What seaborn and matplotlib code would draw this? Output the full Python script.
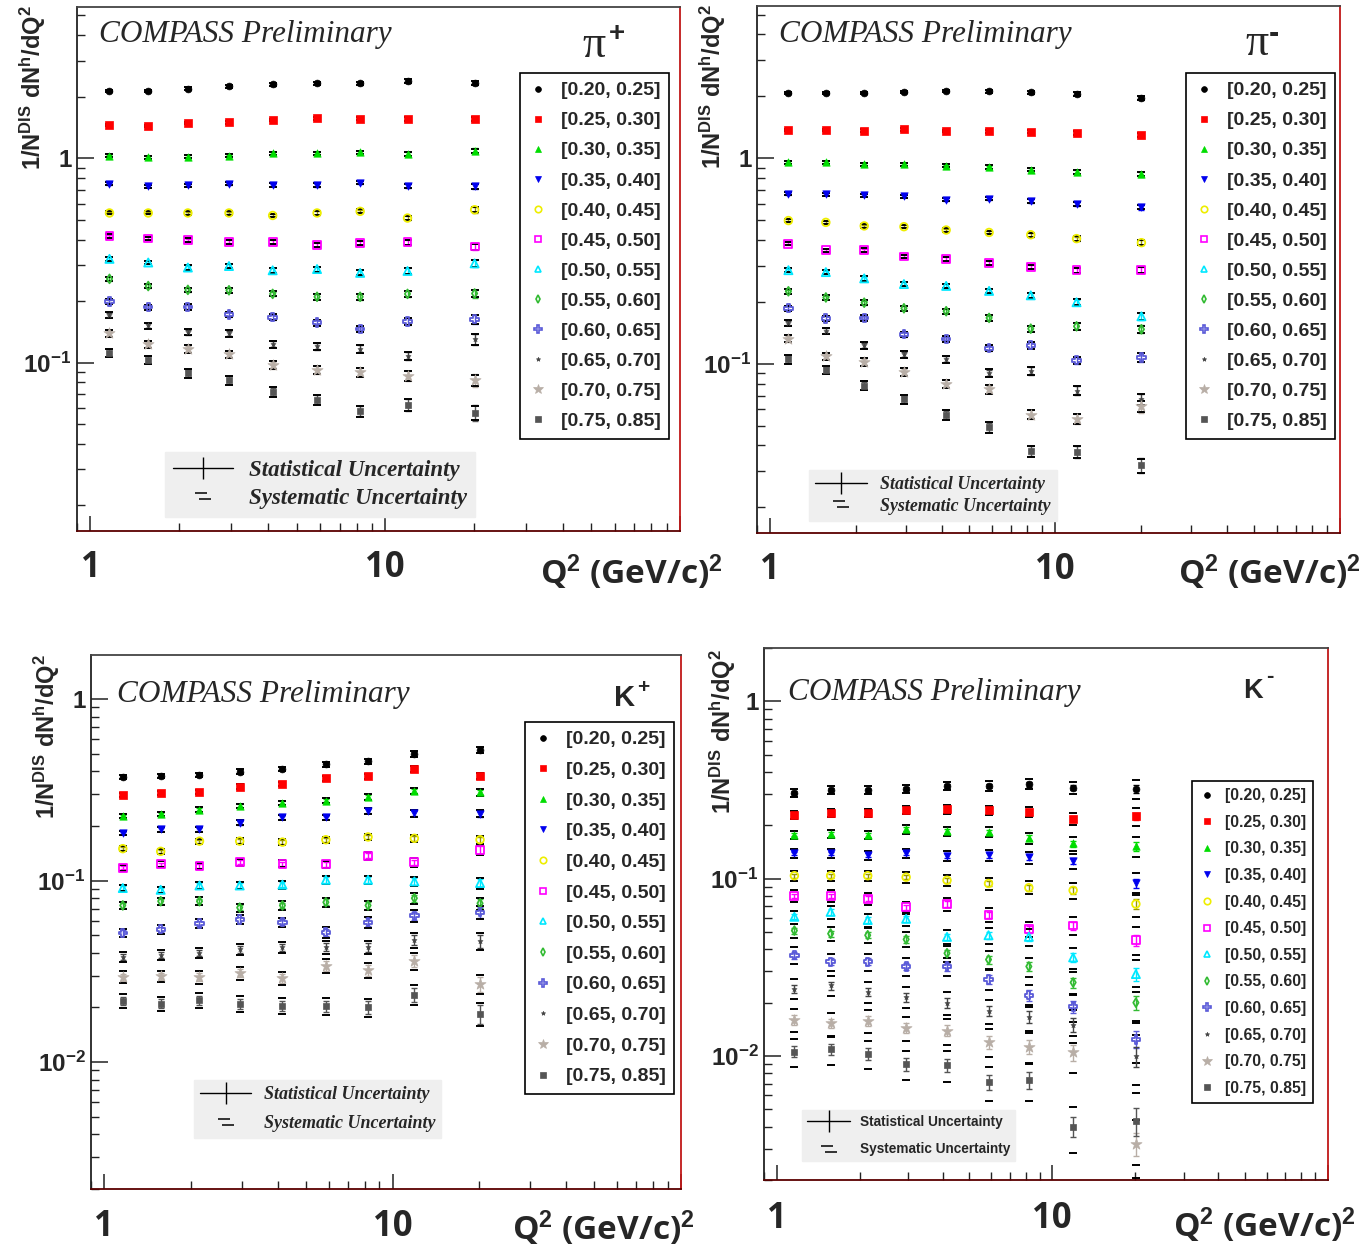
import numpy as np
import matplotlib
matplotlib.use('Agg')
import matplotlib.pyplot as plt
from matplotlib.lines import Line2D
from matplotlib.path import Path
from matplotlib.ticker import LogLocator, NullFormatter
import seaborn as sns

W, H = 1367, 1247

# ---------------- data ----------------
q2 = [1.16, 1.57, 2.14, 2.95, 4.15, 5.87, 8.22, 11.9, 20.1]

z_bins = ['[0.20, 0.25]', '[0.25, 0.30]', '[0.30, 0.35]', '[0.35, 0.40]',
          '[0.40, 0.45]', '[0.45, 0.50]', '[0.50, 0.55]', '[0.55, 0.60]',
          '[0.60, 0.65]', '[0.65, 0.70]', '[0.70, 0.75]', '[0.75, 0.85]']

pip_vals = [
    [2.13, 2.13, 2.19, 2.25, 2.30, 2.33, 2.33, 2.39, 2.34],
    [1.45, 1.44, 1.49, 1.50, 1.54, 1.57, 1.56, 1.56, 1.56],
    [1.03, 1.01, 1.02, 1.03, 1.06, 1.06, 1.07, 1.05, 1.09],
    [0.75, 0.73, 0.74, 0.75, 0.74, 0.74, 0.76, 0.73, 0.73],
    [0.54, 0.54, 0.54, 0.54, 0.525, 0.54, 0.55, 0.51, 0.56],
    [0.416, 0.405, 0.398, 0.390, 0.390, 0.376, 0.386, 0.388, 0.370],
    [0.322, 0.309, 0.292, 0.297, 0.283, 0.287, 0.275, 0.281, 0.306],
    [0.257, 0.237, 0.227, 0.226, 0.217, 0.210, 0.210, 0.217, 0.218],
    [0.199, 0.187, 0.187, 0.172, 0.167, 0.157, 0.146, 0.159, 0.163],
    [0.171, 0.152, 0.141, 0.139, 0.123, 0.120, 0.117, 0.108, 0.130],
    [0.139, 0.123, 0.117, 0.110, 0.097, 0.092, 0.090, 0.086, 0.082],
    [0.112, 0.1035, 0.089, 0.082, 0.072, 0.066, 0.058, 0.062, 0.057],
]

pim_vals = [
    [2.07, 2.07, 2.08, 2.10, 2.12, 2.12, 2.09, 2.055, 1.97],
    [1.37, 1.37, 1.36, 1.38, 1.356, 1.35, 1.345, 1.327, 1.29],
    [0.954, 0.954, 0.934, 0.934, 0.918, 0.906, 0.879, 0.857, 0.835],
    [0.671, 0.668, 0.660, 0.654, 0.629, 0.635, 0.618, 0.598, 0.578],
    [0.497, 0.487, 0.468, 0.464, 0.447, 0.435, 0.424, 0.406, 0.388],
    [0.384, 0.356, 0.356, 0.332, 0.324, 0.310, 0.296, 0.285, 0.285],
    [0.285, 0.279, 0.260, 0.244, 0.239, 0.226, 0.215, 0.199, 0.170],
    [0.225, 0.210, 0.198, 0.186, 0.180, 0.167, 0.148, 0.152, 0.147],
    [0.186, 0.166, 0.167, 0.139, 0.132, 0.119, 0.123, 0.104, 0.107],
    [0.158, 0.145, 0.123, 0.111, 0.105, 0.090, 0.092, 0.074, 0.067],
    [0.132, 0.1085, 0.102, 0.091, 0.080, 0.075, 0.0565, 0.054, 0.062],
    [0.105, 0.093, 0.078, 0.067, 0.0565, 0.049, 0.0376, 0.0373, 0.032],
]

kp_vals = [
    [0.371, 0.378, 0.382, 0.399, 0.413, 0.438, 0.456, 0.50, 0.526],
    [0.296, 0.305, 0.309, 0.330, 0.340, 0.367, 0.375, 0.413, 0.378],
    [0.227, 0.232, 0.246, 0.258, 0.268, 0.276, 0.289, 0.311, 0.306],
    [0.183, 0.192, 0.192, 0.208, 0.223, 0.223, 0.243, 0.235, 0.234],
    [0.150, 0.145, 0.165, 0.165, 0.163, 0.168, 0.174, 0.171, 0.168],
    [0.118, 0.123, 0.121, 0.126, 0.124, 0.123, 0.137, 0.126, 0.148],
    [0.091, 0.089, 0.094, 0.094, 0.095, 0.101, 0.101, 0.099, 0.097],
    [0.073, 0.077, 0.077, 0.071, 0.073, 0.076, 0.073, 0.080, 0.075],
    [0.0515, 0.054, 0.058, 0.061, 0.059, 0.052, 0.059, 0.064, 0.067],
    [0.038, 0.039, 0.040, 0.042, 0.043, 0.043, 0.043, 0.047, 0.0465],
    [0.0294, 0.0297, 0.0294, 0.031, 0.029, 0.034, 0.032, 0.036, 0.027],
    [0.0217, 0.021, 0.022, 0.021, 0.0205, 0.0203, 0.020, 0.0235, 0.0184],
]

km_vals = [
    [0.305, 0.318, 0.316, 0.322, 0.334, 0.334, 0.341, 0.326, 0.321],
    [0.229, 0.235, 0.234, 0.244, 0.246, 0.243, 0.237, 0.218, 0.225],
    [0.177, 0.179, 0.177, 0.190, 0.185, 0.183, 0.170, 0.158, 0.152],
    [0.139, 0.139, 0.136, 0.139, 0.135, 0.136, 0.132, 0.126, 0.094],
    [0.104, 0.104, 0.104, 0.102, 0.098, 0.094, 0.089, 0.086, 0.072],
    [0.080, 0.080, 0.077, 0.069, 0.072, 0.0625, 0.052, 0.0545, 0.045],
    [0.061, 0.065, 0.0585, 0.0594, 0.047, 0.048, 0.047, 0.036, 0.029],
    [0.051, 0.049, 0.048, 0.0455, 0.038, 0.035, 0.032, 0.026, 0.020],
    [0.037, 0.034, 0.034, 0.032, 0.032, 0.027, 0.022, 0.019, 0.0124],
    [0.024, 0.025, 0.023, 0.0215, 0.020, 0.018, 0.0167, 0.015, 0.010],
    [0.0160, 0.0153, 0.0158, 0.0144, 0.0139, 0.0120, 0.0113, 0.0105, 0.0032],
    [0.0106, 0.0109, 0.0103, 0.0090, 0.0089, 0.0071, 0.0073, 0.0040, 0.0043],
]

# relative uncertainties: per Q2 bin, scaled per z bin
z_err_scale = [1.0, 1.0, 1.1, 1.2, 1.3, 1.5, 1.7, 1.9, 2.2, 2.6, 3.0, 3.6]
pip_stat = [0.010, 0.010, 0.011, 0.012, 0.013, 0.014, 0.016, 0.018, 0.024]
pip_sys = [0.013, 0.013, 0.014, 0.014, 0.015, 0.016, 0.017, 0.019, 0.022]
pim_stat = [0.010, 0.010, 0.011, 0.012, 0.013, 0.014, 0.016, 0.018, 0.024]
pim_sys = [0.013, 0.013, 0.014, 0.014, 0.015, 0.016, 0.017, 0.019, 0.022]
kp_stat = [0.015, 0.015, 0.016, 0.017, 0.018, 0.020, 0.022, 0.025, 0.032]
kp_sys = [0.025, 0.025, 0.026, 0.027, 0.028, 0.030, 0.032, 0.035, 0.040]
km_stat = [0.020, 0.020, 0.021, 0.022, 0.024, 0.027, 0.030, 0.035, 0.050]
km_sys = [0.050, 0.050, 0.050, 0.052, 0.055, 0.060, 0.065, 0.080, 0.120]

# ---------------- style ----------------
sns.set_theme(style='ticks')
plt.rcParams.update({
    'font.family': ['Liberation Sans', 'DejaVu Sans'],
    'mathtext.fontset': 'custom',
    'mathtext.rm': 'Liberation Sans:bold',
    'mathtext.bf': 'Liberation Sans:bold',
    'mathtext.it': 'Liberation Sans:bold:italic',
    'axes.facecolor': 'white',
    'figure.facecolor': 'white',
})

# marker, colour, size, open?
markers = [
    ('o', '#000000', 24, False),
    ('s', '#ff0000', 28, False),
    ('^', '#00dd00', 28, False),
    ('v', '#0000ee', 28, False),
    ('o', '#eeee00', 30, True),
    ('s', '#ff00ff', 32, True),
    ('^', '#00e8ff', 34, True),
    ('d', '#33bb33', 20, True),
    ('P', '#5a5ad8', 36, True),
    ('*', '#444444', 14, False),
    ('*', '#b8aea6', 70, False),
    ('s', '#555555', 20, False),
]

# two offset dashes, the systematic-uncertainty symbol of the key
sys_symbol = Path([(-1.0, 0.45), (0.5, 0.45), (-0.5, -0.45), (1.0, -0.45)],
                  [Path.MOVETO, Path.LINETO, Path.MOVETO, Path.LINETO])

fig = plt.figure(figsize=(W / 100, H / 100), dpi=100)


def px_axes(l, t, r, b):
    return fig.add_axes([l / W, 1 - b / H, (r - l) / W, (b - t) / H])


def fx(x):
    return x / W


def fy(y):
    return 1 - y / H


panels = [
    dict(vals=pip_vals, stat=pip_stat, sys=pip_sys, box=(77, 7, 680, 531),
         ylim=(0.015, 5.5), yticks=[0.1, 1], ylabels=[r'$\mathbf{10^{-1}}$', '1'],
         leg=(520, 73, 14, 0.64), slab=(165, 452, 16.5, 'serif', 0.3, 2.6),
         title_xy=(33, 5), comp=(99, 42), xt_y=568, xlab=(540, 572),
         part=('π', 'serif', 33, (582, 57), '+', 20, (609, 41))),
    dict(vals=pim_vals, stat=pim_stat, sys=pim_sys, box=(757, 6, 1340, 533),
         ylim=(0.015, 5.5), yticks=[0.1, 1], ylabels=[r'$\mathbf{10^{-1}}$', '1'],
         leg=(1186, 73, 14, 0.64), slab=(809, 470, 12.9, 'serif', 0.25, 2.9),
         title_xy=(713, 4), comp=(779, 42), xt_y=570, xlab=(1178, 572),
         part=('π', 'serif', 33, (1245, 55), '-', 22, (1269, 42))),
    dict(vals=kp_vals, stat=kp_stat, sys=kp_sys, box=(91, 655, 681, 1189),
         ylim=(0.002, 1.75), yticks=[0.01, 0.1, 1],
         ylabels=[r'$\mathbf{10^{-2}}$', r'$\mathbf{10^{-1}}$', '1'],
         leg=(525, 722, 14, 0.67), slab=(194, 1080, 13, 'serif', 0.65, 2.8),
         title_xy=(47, 654), comp=(117, 702), xt_y=1227, xlab=(512, 1228),
         part=('K', 'sans', 21, (614, 706), '+', 15, (637, 693))),
    dict(vals=km_vals, stat=km_stat, sys=km_sys, box=(764, 648, 1328, 1180),
         ylim=(0.002, 2.0), yticks=[0.01, 0.1, 1],
         ylabels=[r'$\mathbf{10^{-2}}$', r'$\mathbf{10^{-1}}$', '1'],
         leg=(1192, 781, 11.3, 0.74), slab=(802, 1110, 9.8, 'sans', 1.0, 3.2),
         title_xy=(723, 649), comp=(788, 700), xt_y=1219, xlab=(1173, 1225),
         part=('K', 'sans', 19.5, (1243, 698), '-', 16, (1266, 682))),
]

for p in panels:
    ax = px_axes(*p['box'])
    ax.set_xscale('log')
    ax.set_yscale('log')

    for i, (m, c, s, is_open) in enumerate(markers):
        y = np.array(p['vals'][i])
        stat = y * np.array(p['stat']) * z_err_scale[i]
        syst = y * np.array(p['sys']) * z_err_scale[i]
        ecol = '#999900' if c == '#eeee00' else c
        ax.errorbar(q2, y, yerr=stat, fmt='none', ecolor=ecol,
                    elinewidth=1, capsize=2, capthick=1, zorder=2)
        ax.plot(q2, y + syst, ls='none', marker='_', ms=5.5, mew=1.4,
                color='black', zorder=2)
        ax.plot(q2, np.clip(y - syst, 1e-4, None), ls='none', marker='_', ms=5.5,
                mew=1.4, color='black', zorder=2)
        sns.scatterplot(x=q2, y=y, ax=ax, marker=m, s=s, color=c, edgecolor=c,
                        linewidth=1.3 if is_open else 0.5, legend=False, zorder=3)
        if is_open:
            ax.collections[-1].set_facecolor('none')

    ax.set_xlim(0.9, 100)
    ax.set_ylim(*p['ylim'])

    ax.set_xticks([1, 10, 100], labels=['', '', ''])
    ax.xaxis.set_minor_locator(LogLocator(base=10, subs=np.arange(2, 10), numticks=20))
    ax.xaxis.set_minor_formatter(NullFormatter())
    ax.set_yticks(p['yticks'], labels=p['ylabels'], fontsize=17.5, fontweight='bold')
    ax.yaxis.set_minor_locator(LogLocator(base=10, subs=np.arange(2, 10), numticks=20))
    ax.yaxis.set_minor_formatter(NullFormatter())
    ax.tick_params(axis='x', which='major', direction='in', length=11, width=1.1,
                   top=False, bottom=True, color='#222222')
    ax.tick_params(axis='x', which='minor', direction='in', length=6, width=1,
                   top=False, bottom=True, color='#222222')
    ax.tick_params(axis='y', which='major', direction='in', length=12, width=1.1,
                   right=False, left=True, pad=4, color='#222222')
    ax.tick_params(axis='y', which='minor', direction='in', length=6, width=1,
                   right=False, left=True, color='#222222')
    ax.grid(False)
    ax.spines['top'].set_color('#444444')
    ax.spines['left'].set_color('#222222')
    ax.spines['bottom'].set_color('#5a0000')
    ax.spines['right'].set_color('#c01818')
    for sp in ax.spines.values():
        sp.set_linewidth(1.3)

    l, t, r, b = p['box']
    # x tick labels (large bold, placed like the original slide)
    x0 = l + (r - l) * np.log10(1 / 0.9) / np.log10(100 / 0.9)
    x1 = l + (r - l) * np.log10(10 / 0.9) / np.log10(100 / 0.9)
    for xv, txt in ((x0, '1'), (x1, '10')):
        fig.text(fx(xv), fy(p['xt_y']), txt, ha='center', va='center',
                 family='Open Sans', weight='bold', fontsize=25)
    fig.text(fx(p['xlab'][0]), fy(p['xlab'][1]), 'Q$^{2}$ (GeV/c)$^{2}$',
             ha='left', va='center', family='Open Sans', weight='bold', fontsize=24)

    # y title
    fig.text(fx(p['title_xy'][0]), fy(p['title_xy'][1]),
             r'$\mathbf{1/N^{DIS}\ dN^{h}/dQ^{2}}$', rotation=90,
             ha='center', va='top', fontsize=17)

    fig.text(fx(p['comp'][0]), fy(p['comp'][1]), 'COMPASS Preliminary',
             family='Liberation Serif', style='italic', fontsize=22.5, va='baseline')

    base, fam, bsz, bxy, sup, ssz, sxy = p['part']
    if fam == 'serif':
        fig.text(fx(bxy[0]), fy(bxy[1]), base, family='Liberation Serif',
                 fontsize=bsz, va='baseline')
    else:
        fig.text(fx(bxy[0]), fy(bxy[1]), base, family='Liberation Sans',
                 weight='bold', fontsize=bsz, va='baseline')
    fig.text(fx(sxy[0]), fy(sxy[1]), sup, family='Liberation Sans', weight='bold',
             fontsize=ssz, va='baseline')

    # z-bin legend
    lx, ly, lsz, lsp = p['leg']
    handles = [Line2D([0], [0], ls='none', marker=m, color=c,
                      mfc='none' if is_open else c, mec=c,
                      ms=np.sqrt(s) * 0.85, mew=1.2 if is_open else 0.5)
               for (m, c, s, is_open) in markers]
    leg = ax.legend(handles, z_bins, loc='upper left',
                    bbox_to_anchor=(fx(lx), fy(ly)), bbox_transform=fig.transFigure,
                    borderaxespad=0, frameon=True, fancybox=False, framealpha=1,
                    edgecolor='black', labelspacing=lsp, handlelength=1.0,
                    handletextpad=0.65, borderpad=0.45,
                    prop=dict(family='Liberation Sans', weight='bold', size=lsz))
    leg.get_frame().set_linewidth(1.2)
    ax.add_artist(leg)

    # statistical / systematic legend
    sx, sy, ssz2, sfam, ssp, shl = p['slab']
    if sfam == 'serif':
        sprop = dict(family='Liberation Serif', weight='bold', style='italic', size=ssz2)
    else:
        sprop = dict(family='Liberation Sans', weight='bold', size=ssz2)
    h_stat = Line2D([0], [0], color='black', lw=1, marker='|', ms=16, mew=1)
    h_sys = Line2D([0], [0], color='black', ls='none', marker=sys_symbol, ms=11,
                   mew=1.1)
    ax.legend([h_stat, h_sys], ['Statistical Uncertainty', 'Systematic Uncertainty'],
              loc='upper left', bbox_to_anchor=(fx(sx), fy(sy)),
              bbox_transform=fig.transFigure, borderaxespad=0, frameon=True,
              fancybox=False, framealpha=1, facecolor='#efefef', edgecolor='#efefef',
              labelspacing=ssp, handlelength=shl, handletextpad=0.7,
              borderpad=0.35, prop=sprop)

fig.savefig('out.png', dpi=100)
